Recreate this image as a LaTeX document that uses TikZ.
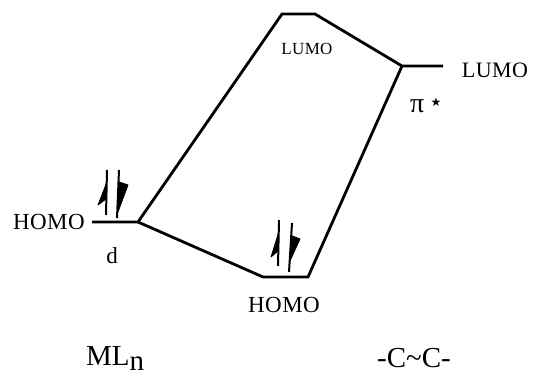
\documentclass[tikz,border=0pt]{standalone}
\usepackage{fontspec}
\setmainfont{Liberation Serif}
\newfontfamily\lblfont[LetterSpace=2]{Liberation Serif}
\newfontfamily\symfont{DejaVu Sans}
\begin{document}
\begin{tikzpicture}[x=1pt,y=-1pt,
  level/.style={line width=2.8pt, line join=miter},
  shaft/.style={line width=2pt},
  barb/.style={fill=black, draw=black, line width=0.8pt, line join=round},
  lbl/.style={inner sep=0pt, anchor=base}]
\useasboundingbox (0,0) rectangle (537,379);
% level end points
\coordinate (dL) at (92,222);
\coordinate (dR) at (138,222);
\coordinate (luA) at (282,14);
\coordinate (luB) at (315,14);
\coordinate (piL) at (402,66);
\coordinate (piR) at (443,66);
\coordinate (hoA) at (263,277);
\coordinate (hoB) at (308,277);
% correlation lines
\draw[level] (dL) -- (dR) -- (luA) -- (luB) -- (piL) -- (piR);
\draw[level] (dR) -- (hoA) -- (hoB) -- (piL);
% electrons, left
\draw[shaft] (107,170) -- (106,215);
\draw[barb] (106.5,183) -- (98,205) -- (106,199) -- cycle;
\draw[shaft] (119,170) -- (117,218);
\draw[barb] (119,182) -- (128,185) -- (118,212) -- cycle;
% electrons, bottom
\draw[shaft] (279,220) -- (278,266);
\draw[barb] (278.5,233) -- (271,257) -- (278,251) -- cycle;
\draw[shaft] (292,223) -- (289,272);
\draw[barb] (292.5,236) -- (300,239) -- (290,261) -- cycle;
% labels
\node[lbl, anchor=base east, font=\lblfont\fontsize{23}{23}\selectfont] (homoL) at (85,229) {HOMO};
\node[lbl, font=\fontsize{23}{23}\selectfont] (dlab) at (112,263) {d};
\node[lbl, font=\lblfont\fontsize{17}{17}\selectfont] (lumoT) at (307,55) {LUMO};
\node[lbl, font=\lblfont\fontsize{22}{22}\selectfont] (lumoR) at (495,78) {LUMO};
\node[lbl, anchor=base west, font=\fontsize{28}{28}\selectfont] (pilab) at (410,113) {π};
\node[inner sep=0pt, font=\symfont\fontsize{12}{12}\selectfont] (star) at (436,102) {★};
\node[lbl, font=\lblfont\fontsize{23}{23}\selectfont] (homoB) at (284,312) {HOMO};
\node[lbl, anchor=base west, font=\fontsize{29}{29}\selectfont] (mln) at (86,365) {ML\raisebox{-5pt}{n}};
\node[lbl, font=\fontsize{29}{29}\selectfont] (cc) at (414,367) {-C\char"7E C-};
\end{tikzpicture}
\end{document}
